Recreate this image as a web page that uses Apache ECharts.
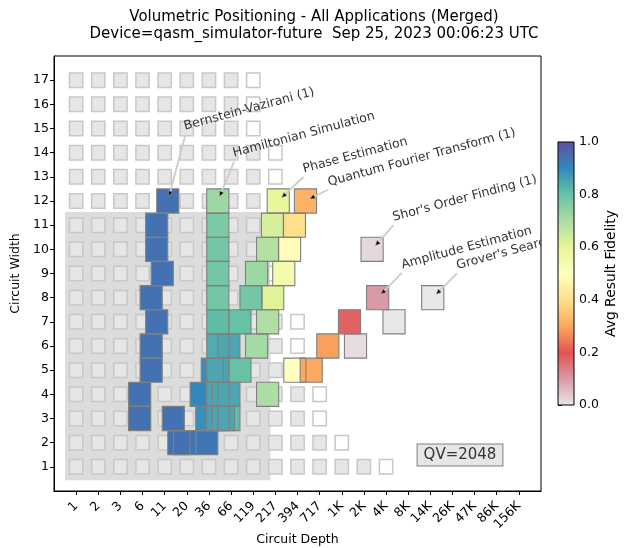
<!DOCTYPE html>
<html>
<head>
<meta charset="utf-8">
<script src="https://cdn.jsdelivr.net/npm/echarts@6/dist/echarts.min.js"></script>
<style>
  html, body { margin: 0; padding: 0; background: #fff; }
  #chart { width: 628px; height: 548px; }
</style>
</head>
<body>
<div id="chart"></div>
<script>
// ---- tick labels ----
const depthLabels = ['1', '2', '3', '6', '11', '20', '36', '66', '119', '217', '394', '717',
  '1K', '2K', '4K', '8K', '14K', '26K', '47K', '86K', '156K'];
const widthTicks = [1, 2, 3, 4, 5, 6, 7, 8, 9, 10, 11, 12, 13, 14, 15, 16, 17];

// last depth column that still has a shaded background cell, for widths 1..17
const backgroundDepthLimit = [13, 11, 10, 10, 9, 9, 9, 8, 8, 8, 8, 8, 8, 8, 7, 7, 7];

// quantum volume and the region it covers (depth position, width)
const qvValue = 2048;
const qvDepthSpan = [-0.5, 8.78];
const qvWidthSpan = [0.45, 11.55];

// ---- benchmark results: [depth position, circuit width, avg result fidelity] ----
const lowDepthBoxes = [
  [4.64, 2, 0.94], [4.90, 2, 0.94], [5.90, 2, 0.93],
  [4.39, 3, 0.94], [5.90, 3, 0.89], [5.65, 4, 0.90], [6.15, 5, 0.89]
];
const hamiltonianSimulation = [
  [6.40, 3, 0.86], [6.40, 4, 0.85], [6.40, 5, 0.85], [6.40, 6, 0.84], [6.40, 7, 0.81],
  [6.40, 8, 0.78], [6.40, 9, 0.78], [6.40, 10, 0.78], [6.40, 11, 0.77], [6.40, 12, 0.72]
];
const midDepthBoxes = [
  [6.90, 3, 0.81], [6.65, 3, 0.85], [6.90, 4, 0.85], [7.40, 5, 0.80], [6.90, 6, 0.85]
];
const bernsteinVazirani = [
  [2.87, 3, 0.94], [2.87, 4, 0.94], [3.39, 5, 0.94], [3.39, 6, 0.94], [3.64, 7, 0.94],
  [3.39, 8, 0.94], [3.89, 9, 0.94], [3.64, 10, 0.94], [3.64, 11, 0.94], [4.14, 12, 0.94]
];
const phaseEstimation = [
  [7.40, 7, 0.80], [7.90, 8, 0.78], [8.15, 9, 0.72], [8.65, 10, 0.685],
  [8.87, 11, 0.625], [9.13, 12, 0.59]
];
const quantumFourierTransform = [
  [8.65, 4, 0.70], [9.88, 5, 0.50], [8.15, 6, 0.71], [8.65, 7, 0.69], [8.88, 8, 0.61],
  [9.38, 9, 0.55], [9.64, 10, 0.49], [9.86, 11, 0.40], [10.36, 12, 0.32]
];
const amplitudeEstimation = [
  [10.62, 5, 0.30], [11.37, 6, 0.29], [12.35, 7, 0.18], [13.62, 8, 0.10]
];
const groversSearch = [
  [12.62, 6, 0.015], [14.36, 7, 0.0], [16.11, 8, 0.0]
];
const shorsOrderFinding = [
  [13.37, 10, 0.02]
];

// applications in drawing order, with the names used for annotations
const applications = [
  { name: null, boxes: lowDepthBoxes },
  { name: 'Hamiltonian Simulation', boxes: hamiltonianSimulation },
  { name: null, boxes: midDepthBoxes },
  { name: 'Bernstein-Vazirani (1)', boxes: bernsteinVazirani },
  { name: 'Phase Estimation', boxes: phaseEstimation },
  { name: 'Quantum Fourier Transform (1)', boxes: quantumFourierTransform },
  { name: 'Amplitude Estimation', boxes: amplitudeEstimation },
  { name: "Grover's Search", boxes: groversSearch },
  { name: "Shor's Order Finding (1)", boxes: shorsOrderFinding }
];

// ---- styling ----
const fidelityColors = ['#e8e8e8', '#d99aa8', '#e25450', '#fca85e', '#fee08b', '#ffffbf',
  '#e6f598', '#abdda4', '#66c2a5', '#3288bd', '#5e4fa2'];
// label offset from the annotated cell, in axis units (depth, width)
const labelOffsets = {
  'Bernstein-Vazirani (1)': [0.82, 2.82],
  'Hamiltonian Simulation': [0.77, 1.70],
  'Phase Estimation': [1.20, 1.05],
  'Quantum Fourier Transform (1)': [1.10, 0.50],
  "Shor's Order Finding (1)": [1.02, 1.05],
  'Amplitude Estimation': [1.16, 1.08],
  "Grover's Search": [1.16, 1.06]
};
const FONT = '"DejaVu Sans", "Liberation Sans", sans-serif';

// ---- derived series data ----
const allBoxes = [];
applications.forEach(app => app.boxes.forEach(b => allBoxes.push(b)));

const annotationNames = [];
const annotationPoints = [];
applications.forEach(app => {
  if (!app.name) return;
  let top = app.boxes[0];
  app.boxes.forEach(b => { if (b[1] >= top[1]) top = b; });
  annotationNames.push(app.name);
  annotationPoints.push([top[0], top[1]]);
});

const backgroundCells = [];
widthTicks.forEach((w, i) => {
  const limit = backgroundDepthLimit[i];
  for (let d = 0; d <= limit + 1; d++) {
    backgroundCells.push([d, w, d > limit ? 1 : 0]);
  }
});

const depthTickValues = depthLabels.map((_, i) => i);

function cellRect(api, cx, cy, size) {
  const c = api.coord([cx, cy]);
  const s = api.size([size, size]);
  return { x: c[0] - s[0] / 2, y: c[1] - s[1] / 2, width: s[0], height: s[1] };
}

const chart = echarts.init(document.getElementById('chart'));

chart.setOption({
  animation: false,
  backgroundColor: '#fff',
  textStyle: { fontFamily: FONT },
  title: {
    text: 'Volumetric Positioning - All Applications (Merged)\nDevice=qasm_simulator-future  Sep 25, 2023 00:06:23 UTC',
    left: 'center',
    top: 4,
    textStyle: { fontFamily: FONT, fontSize: 15, fontWeight: 'normal', color: '#000', lineHeight: 17 }
  },
  grid: [
    { left: 54, top: 56, width: 487, height: 435, show: true, borderColor: '#000', borderWidth: 1,
      backgroundColor: '#fff', outerBoundsMode: 'none', containLabel: false },
    { left: 558, top: 142, width: 16, height: 263, show: false, outerBoundsMode: 'none', containLabel: false }
  ],
  xAxis: [
    {
      type: 'value', gridIndex: 0, min: -1, max: 21,
      name: 'Circuit Depth', nameLocation: 'middle', nameGap: 42, nameMoveOverlap: false,
      nameTextStyle: { fontFamily: FONT, fontSize: 12.5, color: '#000' },
      axisLine: { show: true, onZero: false, lineStyle: { color: '#000', width: 1 } },
      axisTick: { show: true, customValues: depthTickValues, length: 4, lineStyle: { color: '#000' } },
      axisLabel: {
        customValues: depthTickValues, rotate: 45, margin: 13,
        fontFamily: FONT, fontSize: 12.5, color: '#000',
        formatter: v => depthLabels[Math.round(v)] || ''
      },
      splitLine: { show: false }
    },
    { type: 'value', gridIndex: 1, min: 0, max: 1, show: false }
  ],
  yAxis: [
    {
      type: 'value', gridIndex: 0, min: 0, max: 18,
      name: 'Circuit Width', nameLocation: 'middle', nameGap: 27, nameRotate: 90,
      nameTextStyle: { fontFamily: FONT, fontSize: 12.5, color: '#000' },
      axisLine: { show: true, onZero: false, lineStyle: { color: '#000', width: 1 } },
      axisTick: { show: true, customValues: widthTicks, length: 4, lineStyle: { color: '#000' } },
      axisLabel: { customValues: widthTicks, margin: 5, fontFamily: FONT, fontSize: 12.5, color: '#000' },
      splitLine: { show: false }
    },
    {
      type: 'value', gridIndex: 1, min: 0, max: 1, interval: 0.2, position: 'right',
      name: 'Avg Result Fidelity', nameLocation: 'middle', nameGap: 30, nameRotate: 90,
      nameTextStyle: { fontFamily: FONT, fontSize: 13.9, color: '#000' },
      axisLine: { show: true, lineStyle: { color: '#000', width: 1 } },
      axisTick: { show: true, length: 4, lineStyle: { color: '#000' } },
      axisLabel: { margin: 5, fontFamily: FONT, fontSize: 12.5, color: '#000', formatter: v => v.toFixed(1) },
      splitLine: { show: false }
    }
  ],
  visualMap: {
    type: 'continuous', show: false, min: 0, max: 1, dimension: 2,
    seriesIndex: 2, inRange: { color: fidelityColors }
  },
  series: [
    // quantum volume region
    {
      type: 'custom', xAxisIndex: 0, yAxisIndex: 0, z: 1, silent: true,
      data: [[qvDepthSpan[0], qvWidthSpan[0], qvDepthSpan[1], qvWidthSpan[1]]],
      renderItem: (params, api) => {
        const p0 = api.coord([api.value(0), api.value(3)]);
        const p1 = api.coord([api.value(2), api.value(1)]);
        return { type: 'rect', shape: { x: p0[0], y: p0[1], width: p1[0] - p0[0], height: p1[1] - p0[1] },
          style: { fill: '#dcdcdc' } };
      }
    },
    // background cells
    {
      type: 'custom', xAxisIndex: 0, yAxisIndex: 0, z: 2, silent: true,
      data: backgroundCells,
      renderItem: (params, api) => ({
        type: 'rect', shape: cellRect(api, api.value(0), api.value(1), 0.6),
        style: { fill: api.value(2) ? '#ffffff' : '#e6e6e6', stroke: '#c8c8c8', lineWidth: 1.5 }
      })
    },
    // result cells, filled by fidelity
    {
      type: 'custom', xAxisIndex: 0, yAxisIndex: 0, z: 3, silent: true,
      data: allBoxes,
      renderItem: (params, api) => ({
        type: 'rect', shape: cellRect(api, api.value(0), api.value(1), 1),
        style: { fill: api.visual('color'), stroke: 'none' }
      })
    },
    // result cell outlines
    {
      type: 'custom', xAxisIndex: 0, yAxisIndex: 0, z: 4, silent: true,
      data: allBoxes,
      renderItem: (params, api) => ({
        type: 'rect', shape: cellRect(api, api.value(0), api.value(1), 1),
        style: { fill: 'none', stroke: '#808080', lineWidth: 1.1 }
      })
    },
    // application annotations
    {
      type: 'custom', xAxisIndex: 0, yAxisIndex: 0, z: 5, silent: true, clip: true,
      data: annotationPoints,
      renderItem: (params, api) => {
        const name = annotationNames[params.dataIndex];
        const off = labelOffsets[name];
        const x = api.value(0), w = api.value(1);
        const c = api.coord([x, w]);
        const a = api.coord([x + off[0], w + off[1]]);
        const dx = a[0] - c[0], dy = a[1] - c[1];
        const len = Math.hypot(dx, dy);
        const ux = dx / len, uy = dy / len;
        const tip = [c[0] + ux * 5, c[1] + uy * 5];
        const base = [tip[0] + ux * 5, tip[1] + uy * 5];
        const nx = -uy, ny = ux;
        return {
          type: 'group',
          children: [
            { type: 'line', shape: { x1: base[0], y1: base[1], x2: a[0] - ux * 2, y2: a[1] - uy * 2 },
              style: { stroke: '#cccccc', lineWidth: 1.8 } },
            { type: 'polygon',
              shape: { points: [tip, [base[0] + nx * 2.3, base[1] + ny * 2.3], [base[0] - nx * 2.3, base[1] - ny * 2.3]] },
              style: { fill: '#000', stroke: '#bbbbbb', lineWidth: 0.5 } },
            { type: 'text', x: a[0], y: a[1], rotation: Math.PI * 15 / 180,
              style: { text: name, fill: '#333', fontFamily: FONT, fontSize: 12.5, align: 'left', verticalAlign: 'bottom' } }
          ]
        };
      }
    },
    // color bar
    {
      type: 'custom', xAxisIndex: 1, yAxisIndex: 1, z: 3, silent: true,
      data: [[0, 0]],
      renderItem: (params, api) => {
        const p0 = api.coord([0, 1]);
        const p1 = api.coord([1, 0]);
        const stops = fidelityColors.map((col, i) => ({ offset: i / (fidelityColors.length - 1), color: col }));
        return { type: 'rect', shape: { x: p0[0], y: p0[1], width: p1[0] - p0[0], height: p1[1] - p0[1] },
          style: { fill: new echarts.graphic.LinearGradient(0, 1, 0, 0, stops), stroke: '#000', lineWidth: 1 } };
      }
    }
  ],
  graphic: [
    {
      type: 'text', x: 460, y: 455, z: 10,
      style: {
        text: 'QV=' + qvValue, fontFamily: FONT, fontSize: 15, fill: '#333',
        align: 'center', verticalAlign: 'middle',
        backgroundColor: '#e6e6e6', borderColor: '#808080', borderWidth: 1, padding: [4, 6, 2, 6]
      }
    }
  ]
});
</script>
</body>
</html>
